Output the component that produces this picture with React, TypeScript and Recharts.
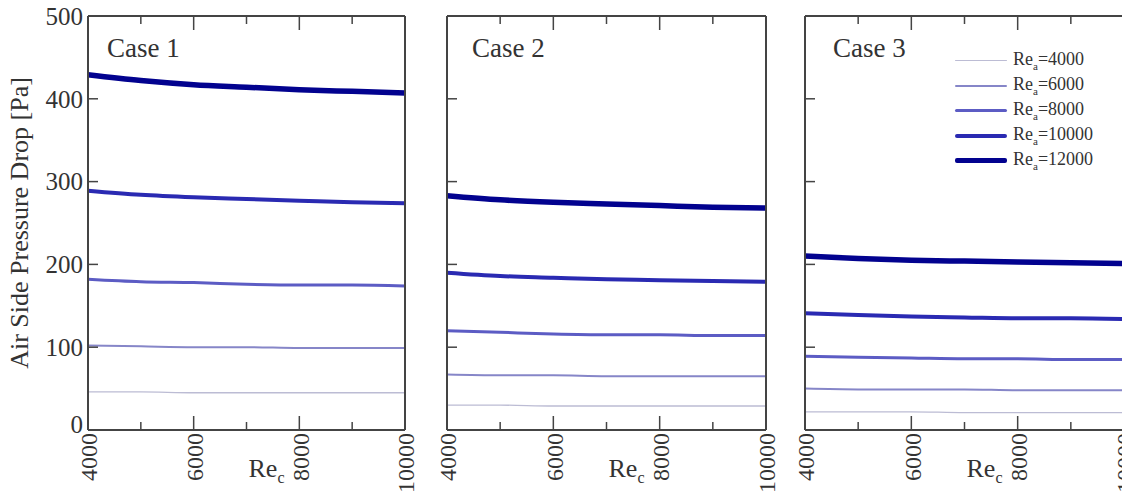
import React from 'react';
import { LineChart, Line, XAxis, YAxis, Legend, Label } from 'recharts';

// Re_c (x axis) sample points
const reC = [4000, 5000, 6000, 7000, 8000, 9000, 10000];
const xTicks = [4000, 5000, 6000, 7000, 8000, 9000, 10000];
const yTicks = [0, 100, 200, 300, 400, 500];

// air side Reynolds numbers (one line each)
const reA = [4000, 6000, 8000, 10000, 12000];

// Case 1 pressure drop [Pa]
const case1Re4000 = [46, 46, 45, 45, 45, 45, 45];
const case1Re6000 = [102, 101, 100, 100, 99, 99, 99];
const case1Re8000 = [182, 179, 178, 176, 175, 175, 174];
const case1Re10000 = [289, 284, 281, 279, 277, 275, 274];
const case1Re12000 = [429, 422, 417, 414, 411, 409, 407];

// Case 2
const case2Re4000 = [30, 30, 29, 29, 29, 29, 29];
const case2Re6000 = [67, 66, 66, 65, 65, 65, 65];
const case2Re8000 = [120, 118, 116, 115, 115, 114, 114];
const case2Re10000 = [190, 186, 184, 182, 181, 180, 179];
const case2Re12000 = [283, 278, 275, 273, 271, 269, 268];

// Case 3
const case3Re4000 = [22, 22, 22, 21, 21, 21, 21];
const case3Re6000 = [50, 49, 49, 49, 48, 48, 48];
const case3Re8000 = [89, 88, 87, 86, 86, 85, 85];
const case3Re10000 = [141, 139, 137, 136, 135, 135, 134];
const case3Re12000 = [210, 207, 205, 204, 203, 202, 201];

const caseNames = ['Case 1', 'Case 2', 'Case 3'];
const caseValues = [
  [case1Re4000, case1Re6000, case1Re8000, case1Re10000, case1Re12000],
  [case2Re4000, case2Re6000, case2Re8000, case2Re10000, case2Re12000],
  [case3Re4000, case3Re6000, case3Re8000, case3Re10000, case3Re12000],
];

// styles
const lineColors = ['#bcbcd4', '#8686c8', '#5c5cc4', '#2a2ab2', '#02028f'];
const lineWidths = [1.3, 2, 3, 4, 5.5];
const FONT = '"Liberation Serif", "Times New Roman", serif';
const INK = '#333';
const FRAME = '#444';

// page coordinates: container is shifted back over the body margin
const panels = [
  { left: 0, width: 418, mLeft: 38, yw: 50, mRight: 12, titleDx: 19, labels: true },
  { left: 418, width: 360, mLeft: 28, yw: 1, mRight: 11, titleDx: 25, labels: false },
  { left: 778, width: 352, mLeft: 26, yw: 1, mRight: 5, titleDx: 28, labels: false },
];

const buildRows = (values: number[][]) =>
  reC.map((x, i) => {
    const row: Record<string, number> = { x };
    reA.forEach((re, j) => {
      row['re' + re] = values[j][i];
    });
    return row;
  });

const BottomTick = (props: any) => {
  const { x, y, payload } = props;
  const major = payload.value % 2000 === 0;
  return (
    <g>
      <line x1={x} x2={x} y1={y} y2={y - (major ? 14 : 8)} stroke={FRAME} strokeWidth={1.5} />
      {major && (
        <text
          transform={`translate(${x + 1},${y + 3}) rotate(-90)`}
          textAnchor="end"
          dy="0.35em"
          fontSize={24}
          fontFamily={FONT}
          fill={INK}
        >
          {payload.value}
        </text>
      )}
    </g>
  );
};

const TopTick = (props: any) => {
  const { x, y, payload } = props;
  const major = payload.value % 2000 === 0;
  return <line x1={x} x2={x} y1={y} y2={y + (major ? 14 : 8)} stroke={FRAME} strokeWidth={1.5} />;
};

const makeLeftTick = (showLabel: boolean) => (props: any) => {
  const { x, y, payload } = props;
  return (
    <g>
      <line x1={x} x2={x + 10} y1={y} y2={y} stroke={FRAME} strokeWidth={1.5} />
      {showLabel && (
        <text x={x - 5} y={payload.value === 0 ? y - 6 : y} textAnchor="end" dy="0.35em" fontSize={25} fontFamily={FONT} fill={INK}>
          {payload.value}
        </text>
      )}
    </g>
  );
};

const RightTick = (props: any) => {
  const { x, y } = props;
  return <line x1={x} x2={x - 10} y1={y} y2={y} stroke={FRAME} strokeWidth={1.5} />;
};

const LegendBox = () => (
  <div style={{ fontFamily: FONT, color: INK, fontSize: 18 }}>
    {reA.map((re, j) => (
      <div key={re} style={{ display: 'flex', alignItems: 'center', height: 25 }}>
        <div style={{ width: 52, height: lineWidths[j], background: lineColors[j], borderRadius: 2 }} />
        <span style={{ marginLeft: 6, whiteSpace: 'nowrap' }}>
          Re<sub style={{ fontSize: 11 }}>a</sub>={re}
        </span>
      </div>
    ))}
  </div>
);

const Panel = ({ idx }: { idx: number }) => {
  const p = panels[idx];
  const rows = buildRows(caseValues[idx]);
  return (
    <div style={{ position: 'absolute', left: p.left, top: 0 }}>
      <LineChart
        width={p.width}
        height={491}
        data={rows}
        margin={{ top: 15, right: p.mRight, bottom: 3, left: p.mLeft }}
      >
        <XAxis
          xAxisId="b"
          dataKey="x"
          type="number"
          domain={[4000, 10000]}
          ticks={xTicks}
          height={58}
          tickSize={0}
          tickMargin={0}
          tickLine={false}
          axisLine={{ stroke: FRAME, strokeWidth: 2 }}
          tick={(t: any) => <BottomTick {...t} />}
          interval={0}
          label={
            <Label
              content={(lp: any) => {
                const vb = lp.viewBox;
                return (
                  <text x={vb.x + vb.width / 2 + 2} y={vb.y + 47} fontSize={26} fontFamily={FONT} fill={INK}>
                    Re
                    <tspan fontSize={16} dy={6}>c</tspan>
                  </text>
                );
              }}
            />
          }
        />
        <XAxis
          xAxisId="t"
          orientation="top"
          dataKey="x"
          type="number"
          domain={[4000, 10000]}
          ticks={xTicks}
          height={1}
          tickSize={0}
          tickMargin={0}
          tickLine={false}
          axisLine={{ stroke: FRAME, strokeWidth: 2 }}
          tick={(t: any) => <TopTick {...t} />}
          interval={0}
          label={
            <Label
              content={(lp: any) => {
                const vb = lp.viewBox;
                return (
                  <text x={vb.x + p.titleDx} y={vb.y + vb.height + 41} fontSize={27} fontFamily={FONT} fill={INK}>
                    {caseNames[idx]}
                  </text>
                );
              }}
            />
          }
        />
        <YAxis
          yAxisId="l"
          type="number"
          domain={[0, 500]}
          ticks={yTicks}
          width={p.yw}
          tickSize={0}
          tickMargin={0}
          tickLine={false}
          axisLine={{ stroke: FRAME, strokeWidth: 2 }}
          tick={makeLeftTick(p.labels)}
          interval={0}
          label={
            p.labels ? (
              <Label
                content={(lp: any) => {
                  const vb = lp.viewBox;
                  return (
                    <text
                      transform={`translate(${vb.x - 19},${vb.y + vb.height / 2}) rotate(-90)`}
                      textAnchor="middle"
                      dy="0.35em"
                      fontSize={26}
                      fontFamily={FONT}
                      fill={INK}
                    >
                      Air Side Pressure Drop [Pa]
                    </text>
                  );
                }}
              />
            ) : undefined
          }
        />
        <YAxis
          yAxisId="r"
          orientation="right"
          type="number"
          domain={[0, 500]}
          ticks={yTicks}
          width={1}
          tickSize={0}
          tickMargin={0}
          tickLine={false}
          axisLine={{ stroke: FRAME, strokeWidth: 2 }}
          tick={(t: any) => <RightTick {...t} />}
          interval={0}
        />
        {reA.map((re, j) => (
          <Line
            key={re}
            xAxisId="b"
            yAxisId="l"
            type="monotone"
            dataKey={'re' + re}
            name={'Re=' + re}
            stroke={lineColors[j]}
            strokeWidth={lineWidths[j]}
            dot={false}
            isAnimationActive={false}
          />
        ))}
        {idx === 2 && (
          <Legend
            layout="vertical"
            align="center"
            verticalAlign="middle"
            wrapperStyle={{ left: 177, top: 48, width: 170 }}
            content={() => <LegendBox />}
          />
        )}
      </LineChart>
    </div>
  );
};

export default function App() {
  return (
    <div style={{ position: 'relative', left: -8, top: -8, width: 1130, height: 491, fontFamily: FONT, background: '#fff' }}>
      <Panel idx={0} />
      <Panel idx={1} />
      <Panel idx={2} />
    </div>
  );
}
